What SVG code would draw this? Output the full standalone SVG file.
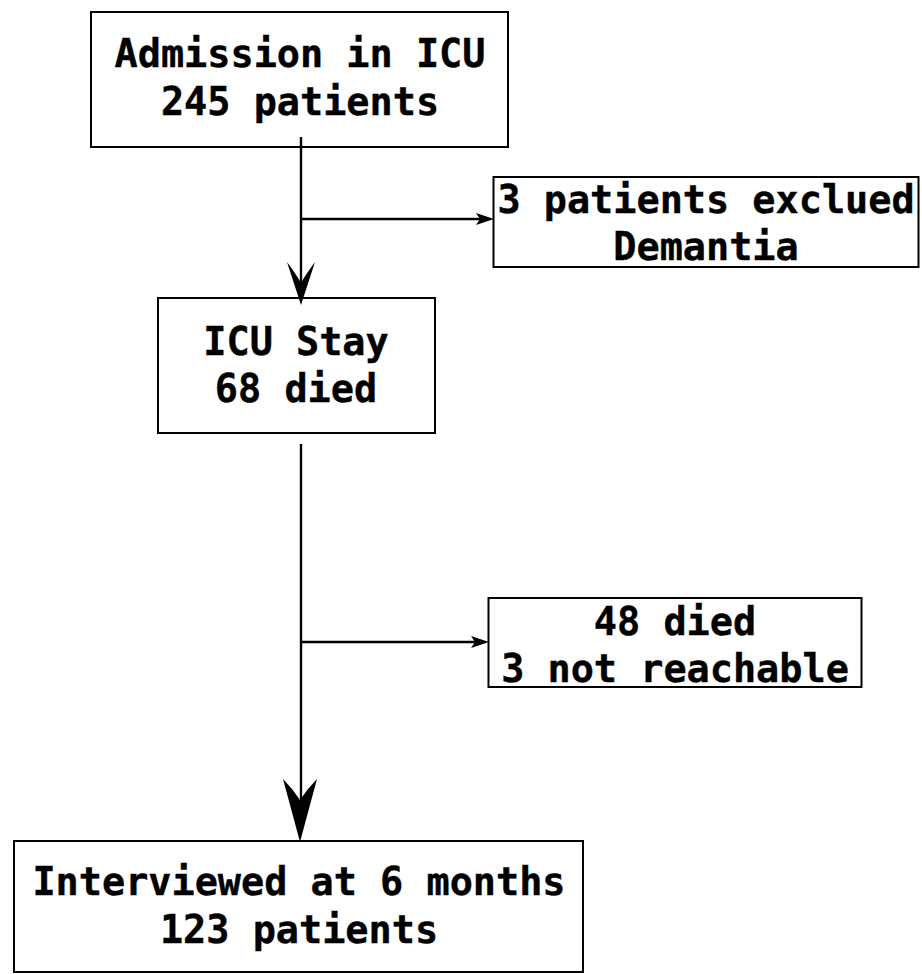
<svg xmlns="http://www.w3.org/2000/svg" width="922" height="974" viewBox="0 0 922 974">
<style>
.box{fill:#fff;stroke:#000;stroke-width:2}
.t{font-family:"DejaVu Sans Mono","Liberation Mono",monospace;font-weight:bold;font-size:38.5px;fill:#000;text-anchor:middle;stroke:#000;stroke-width:0.4}
.ln{stroke:#000;stroke-width:2.4;fill:none}
.ah{fill:#000;stroke:none}
</style>
<rect width="922" height="974" fill="#fff"/>
<g id="admission">
<rect class="box" x="91" y="12" width="417" height="135"/>
<text class="t" x="300" y="67">Admission in ICU</text>
<text class="t" x="300" y="115">245 patients</text>
</g>
<g id="excluded">
<rect class="box" x="493.5" y="177" width="425" height="90"/>
<text class="t" x="706" y="213">3 patients exclued</text>
<text class="t" x="706" y="260">Demantia</text>
</g>
<g id="icustay">
<rect class="box" x="158" y="298" width="277" height="135"/>
<text class="t" x="296" y="355">ICU Stay</text>
<text class="t" x="296" y="402">68 died</text>
</g>
<g id="lost">
<rect class="box" x="488.5" y="598" width="373" height="89"/>
<text class="t" x="675" y="635">48 died</text>
<text class="t" x="675" y="682">3 not reachable</text>
</g>
<g id="interviewed">
<rect class="box" x="14" y="841" width="569" height="131"/>
<text class="t" x="299" y="895">Interviewed at 6 months</text>
<text class="t" x="299" y="943">123 patients</text>
</g>
<g id="connectors">
<line class="ln" x1="301" y1="137" x2="301" y2="290"/>
<path class="ah" d="M301,305 L287,262 Q296,274 301,283 Q306,274 315,262 Z"/>
<line class="ln" x1="301" y1="219" x2="482" y2="219"/>
<path class="ah" d="M494,219 L476,213 L480,219 L476,225 Z"/>
<line class="ln" x1="301" y1="444" x2="301" y2="820"/>
<path class="ah" d="M300,842 L283,779 Q293,789 300,800 Q307,789 317,779 Z"/>
<line class="ln" x1="301" y1="642" x2="477" y2="642"/>
<path class="ah" d="M489,642 L471,636 L475,642 L471,648 Z"/>
</g>
</svg>
